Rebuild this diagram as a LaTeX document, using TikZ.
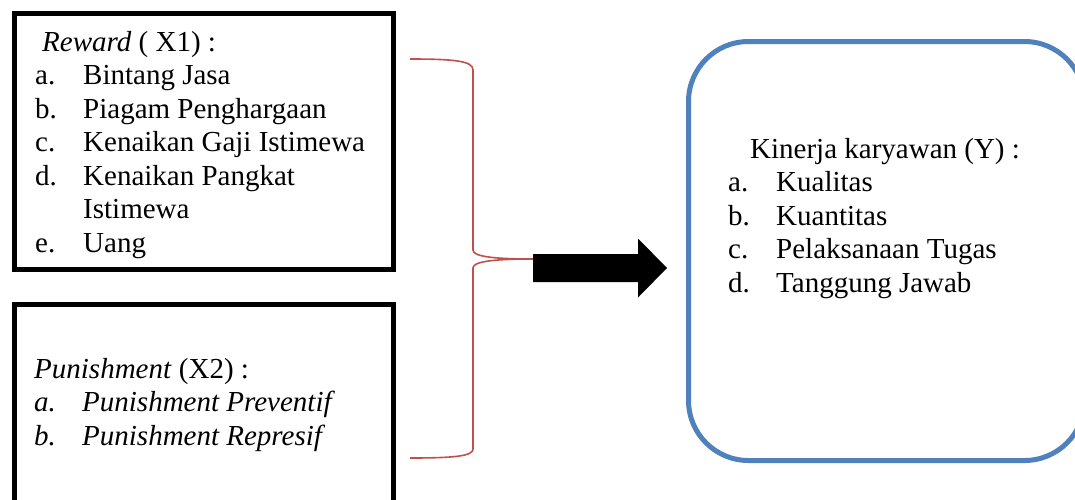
\documentclass[tikz,border=0pt]{standalone}
\usepackage{fontspec}
\setmainfont{Liberation Serif}
\definecolor{boxblue}{HTML}{4F81BD}
\definecolor{bracered}{HTML}{C0504D}
\newcommand{\listfont}{\fontsize{29}{33.5}\selectfont}
\begin{document}
\begin{tikzpicture}[x=1pt, y=-1pt,
  varbox/.style={draw=black, line width=5pt, rectangle, inner sep=0pt, anchor=north west},
  resultbox/.style={draw=boxblue, line width=5pt, rectangle, rounded corners=60pt, inner sep=0pt, anchor=north west},
  listtext/.style={anchor=base west, inner sep=0pt, font=\listfont},
  bracket/.style={draw=bracered, line width=1.6pt},
  bigarrow/.style={fill=black}
]
\useasboundingbox (0,0) rectangle (1075,499);
\clip (0,0) rectangle (1075,499);

% independent variable boxes
\node[varbox, minimum width=379.5pt, minimum height=256pt] (reward) at (11.5,11) {};
\node[varbox, minimum width=379pt, minimum height=260pt] (punish) at (12,302) {};

% dependent variable box
\node[resultbox, minimum width=396pt, minimum height=419pt] (kinerja) at (686,39) {};

% list texts
\node[listtext] (rewardtext) at (35,51) {%
  \begin{tabular}[t]{@{}p{48pt}@{}l@{}}
  \multicolumn{2}{@{\hspace{7pt}}l@{}}{\textit{Reward} ( X1) :}\\
  a. & Bintang Jasa\\
  b. & Piagam Penghargaan\\
  c. & Kenaikan Gaji Istimewa\\
  d. & Kenaikan Pangkat\\
     & Istimewa\\
  e. & Uang
  \end{tabular}};

\node[listtext] (punishtext) at (34,378) {%
  \begin{tabular}[t]{@{}p{48pt}@{}l@{}}
  \multicolumn{2}{@{}l@{}}{\textit{Punishment} (X2) :}\\
  \textit{a.} & \textit{Punishment Preventif}\\
  \textit{b.} & \textit{Punishment Represif}
  \end{tabular}};

\node[listtext] (kinerjatext) at (728,158) {%
  \begin{tabular}[t]{@{}p{48pt}@{}l@{}}
  \multicolumn{2}{@{\hspace{22pt}}l@{}}{Kinerja karyawan (Y) :}\\
  a. & Kualitas\\
  b. & Kuantitas\\
  c. & Pelaksanaan Tugas\\
  d. & Tanggung Jawab
  \end{tabular}};

% brace joining both variables
\coordinate (bracetop) at (410,59);
\coordinate (bracetip) at (533,259);
\coordinate (bracebot) at (410,458);
\draw[bracket] (bracetop) .. controls (455,59) and (473,61) .. (473,70)
  -- (473,250) .. controls (473,256) and (490,259) .. (bracetip)
  .. controls (490,259) and (473,262) .. (473,268)
  -- (473,449) .. controls (473,456) and (455,458) .. (bracebot);

% block arrow towards the result
\coordinate (arrowtail) at (533,268);
\coordinate (arrowtip) at (667,268);
\fill[bigarrow] (arrowtail) ++(0,-14) -- (638,254) -- (638,238.5) -- (arrowtip)
  -- (638,297.5) -- (638,282) -- (533,282) -- cycle;
\end{tikzpicture}
\end{document}
